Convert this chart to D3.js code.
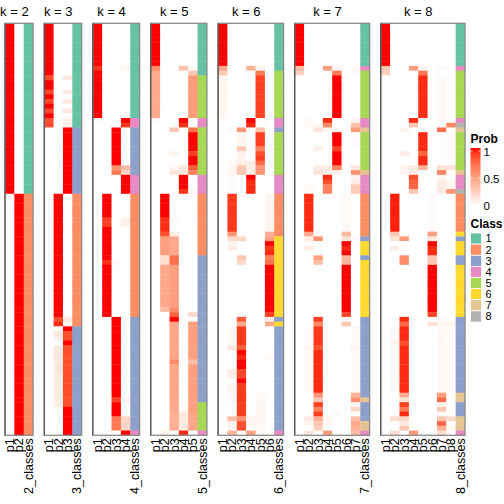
<!DOCTYPE html>
<html><head><meta charset="utf-8">
<script src="https://cdn.jsdelivr.net/npm/d3@7"></script>
<style>body{margin:0;background:#fff}svg{display:block}text{font-family:"Liberation Sans",Arial,Helvetica,sans-serif}</style>
</head><body>
<svg id="chart" width="504" height="504"></svg>
<script>
// ---- data (run-length rows: [repeat, class, [p1..pk]]) ----
const K_VALUES = [2,3,4,5,6,7,8];
const CLASS_LABELS = ["1","2","3","4","5","6","7","8"];
const CLASS_COLORS = ["#66C2A5","#FC8D62","#8DA0CB","#E78AC3","#A6D854","#FFD92F","#E5C494","#B3B3B3"];
const PROB_TICKS = [0, 0.5, 1];

const membership_k2 = [[36,1,[1,0]],[51,2,[0,1]]];
const membership_k3 = [
 [11,1,[1,0,0]],[1,1,[0.87,0,0.12]],[2,1,[1,0,0]],[1,1,[0.88,0,0.12]],[1,1,[1,0,0]],
 [1,1,[0.88,0,0.12]],[1,1,[1,0,0]],[1,1,[0.88,0,0.12]],[1,1,[1,0,0]],[2,1,[0.85,0,0.08]],
 [14,3,[0,0,1]],[26,2,[0,1,0]],[1,2,[0,0.86,0.12]],[1,2,[0,0.94,0.04]],
 [1,3,[0,0,1]],[1,3,[0,0.13,0.84]],[1,3,[0,0.09,0.85]],[1,3,[0,0,1]],
 [1,3,[0,0.11,0.84]],[1,3,[0,0.12,0.85]],[1,3,[0,0.14,0.82]],[1,3,[0,0.1,0.86]],
 [2,3,[0,0.13,0.84]],[3,3,[0,0.1,0.86]],[4,3,[0,0.1,0.85]],[6,3,[0,0,1]]
];
const membership_k4 = [
 [9,1,[1,0,0,0]],[1,1,[0.92,0,0,0.05]],[10,1,[1,0,0,0]],[1,4,[0.04,0,0,1]],[1,4,[0,0,0,0.92]],
 [8,3,[0,0,1,0]],[1,3,[0,0,0.55,0.35]],[1,3,[0,0,0.68,0.22]],[4,4,[0,0,0,1]],
 [5,2,[0,1,0,0]],[2,2,[0,0.9,0,0.08]],[7,2,[0,1,0,0]],[1,2,[0,0.93,0.03,0]],[11,2,[0,1,0,0]],
 [17,3,[0,0,1,0]],[1,3,[0,0,0.88,0.06]],[3,3,[0,0,1,0]],[3,3,[0,0,0.68,0.22]],[1,4,[0,0,0,1]]
];
const membership_k5 = [
 [9,1,[1,0,0,0,0]],[1,1,[0.58,0,0,0.32,0.04]],[1,1,[0.45,0,0,0,0.3]],
 [9,5,[0.45,0,0,0,0.52]],[1,4,[0.03,0,0,1,0]],[1,4,[0,0,0,0.93,0]],
 [1,5,[0,0,0.3,0,0.72]],[4,5,[0,0,0,0,1]],[1,5,[0,0,0.06,0,0.9]],[2,5,[0,0,0,0,1]],
 [1,5,[0,0,0.05,0.12,0.8]],[1,5,[0,0,0.15,0.13,0.65]],[3,4,[0,0,0,1,0]],[1,4,[0,0,0,0.92,0.03]],
 [5,2,[0,1,0,0,0]],[1,2,[0,0.94,0.03,0,0]],[2,2,[0,0.94,0,0,0]],[1,2,[0,0.84,0.1,0,0]],
 [4,2,[0,0.5,0.45,0,0]],[2,3,[0,0.18,0.72,0,0]],[9,3,[0,0.45,0.5,0,0]],[1,3,[0,0.35,0.6,0,0]],
 [1,3,[0,0,0.78,0,0.2]],[1,3,[0,0,1,0,0]],[8,3,[0,0,0.47,0,0.5]],[1,3,[0,0,0.6,0,0.35]],
 [8,3,[0,0,0.47,0,0.5]],[2,5,[0,0,0.45,0.03,0.5]],[4,5,[0,0,0.42,0.12,0.47]],[1,4,[0,0.08,0,0.95,0]]
];
const membership_k6 = [
 [9,1,[1,0,0,0,0,0]],[1,1,[0.45,0,0,0.4,0.05,0]],[1,5,[0.3,0,0,0,0.68,0]],
 [9,5,[0.05,0,0,0,0.9,0]],[1,4,[0,0,0,1,0.02,0]],[1,4,[0,0,0,0.95,0,0]],
 [1,3,[0,0.03,0.55,0,0.33,0]],[3,5,[0,0,0.05,0,0.9,0]],[1,5,[0,0,0.28,0,0.65,0]],
 [1,5,[0,0,0.08,0,0.85,0]],[1,5,[0,0,0.06,0,0.9,0]],[1,5,[0,0.03,0.1,0.1,0.75,0]],
 [2,5,[0,0.05,0.3,0.1,0.55,0]],[1,4,[0,0.02,0,1,0,0]],[3,4,[0,0.02,0,0.95,0,0]],
 [8,2,[0,0.92,0,0,0,0.05]],[1,2,[0,0.55,0,0,0,0.42]],[1,6,[0,0.2,0.22,0,0,0.5]],
 [1,6,[0,0.05,0,0,0,1]],[1,6,[0,0.1,0,0,0,0.92]],[1,6,[0,0,0,0,0,0.95]],
 [1,6,[0,0,0.3,0,0,0.65]],[1,6,[0,0,0.2,0,0,0.72]],[10,6,[0,0,0,0,0,1]],
 [1,6,[0,0,0.03,0,0,0.9]],[1,3,[0,0,0.8,0,0,0.1]],[1,6,[0,0,0.45,0,0,0.46]],
 [4,3,[0,0.04,0.92,0,0,0]],[1,3,[0,0.13,0.8,0,0,0]],[1,3,[0,0,1,0,0,0]],[1,3,[0,0,0.95,0,0,0.04]],
 [2,3,[0,0,1,0,0,0]],[2,3,[0,0.1,0.88,0,0,0]],[1,3,[0,0,1,0,0,0]],[2,3,[0,0.06,0.9,0,0,0]],
 [2,3,[0,0.03,0.92,0,0.04,0]],[3,3,[0,0,0.9,0,0.05,0]],[1,3,[0,0.35,0.55,0.05,0.05,0]],
 [1,3,[0,0.06,0.85,0.06,0.05,0]],[1,3,[0,0.06,0.85,0,0.04,0]],[1,4,[0,0.4,0,0.5,0.04,0]]
];
const membership_k7 = [
 [9,1,[1,0,0,0,0,0,0]],[1,4,[0.35,0,0,0.5,0.05,0,0.03]],[1,5,[0.25,0,0,0,0.68,0,0.03]],
 [9,5,[0,0,0,0,1,0,0]],[1,4,[0,0.03,0,0.95,0,0,0.06]],[1,4,[0,0.04,0.05,0.62,0,0,0.33]],
 [1,7,[0,0,0.15,0.05,0.05,0,0.52]],[3,5,[0,0,0,0,1,0,0.02]],[1,5,[0,0,0.08,0,0.88,0,0]],
 [3,5,[0,0,0,0,1,0,0]],[1,5,[0,0,0.1,0.1,0.65,0,0.13]],[1,7,[0,0,0.15,0.1,0.07,0,0.58]],
 [1,4,[0,0,0,0.95,0,0,0.06]],[1,4,[0,0,0,0.85,0,0,0.1]],[2,4,[0,0.03,0,0.65,0,0,0.28]],
 [8,2,[0,0.95,0,0,0,0.03,0]],[1,2,[0,0.45,0,0,0,0.38,0]],[1,3,[0,0.1,0.57,0,0,0.15,0.03]],
 [1,6,[0,0.03,0,0,0,1,0]],[1,6,[0,0.1,0,0,0,0.95,0]],[1,6,[0,0,0,0,0,1,0]],
 [1,3,[0,0,0.5,0,0,0.38,0]],[1,6,[0,0,0.35,0,0,0.4,0]],[10,6,[0,0,0,0,0,1,0]],
 [1,6,[0,0,0.03,0,0,0.88,0]],[1,3,[0,0,0.9,0,0,0,0]],[1,3,[0,0,0.62,0,0,0.3,0]],
 [4,3,[0,0.02,0.92,0,0,0,0.03]],[1,3,[0,0.05,0.85,0,0,0,0.05]],[9,3,[0,0.03,0.95,0,0,0,0.03]],
 [1,3,[0,0,0.55,0,0,0,0.4]],[1,7,[0,0,0.3,0,0,0,0.58]],[1,3,[0,0,0.9,0,0,0,0.07]],
 [1,3,[0,0,0.65,0,0,0,0.22]],[1,3,[0,0,0.9,0,0.03,0,0]],[1,3,[0,0.12,0.42,0.05,0,0,0.35]],
 [1,7,[0,0.06,0.3,0.04,0,0,0.45]],[1,7,[0,0,0.25,0,0,0,0.42]],[1,4,[0,0.13,0,0.52,0,0,0.35]]
];
const membership_k8 = [
 [9,1,[1,0,0,0,0,0,0,0]],[1,4,[0.3,0,0,0.5,0.06,0,0.03,0]],[1,5,[0.25,0,0,0,0.68,0,0,0]],
 [9,5,[0,0,0,0,0.95,0,0.03,0]],[1,4,[0,0,0,0.95,0,0,0.04,0]],[1,8,[0,0,0,0.3,0,0,0,0.62]],
 [1,7,[0,0,0.07,0,0,0,0.72,0]],[4,5,[0,0,0,0,0.95,0,0,0.02]],[1,5,[0,0,0.1,0,0.78,0,0,0.02]],
 [2,5,[0,0,0,0,0.95,0,0,0.02]],[1,5,[0,0,0.06,0.12,0.4,0,0.15,0.15]],[1,7,[0,0,0.06,0.1,0,0,0.62,0.03]],
 [1,4,[0,0,0,0.85,0,0,0.03,0]],[2,4,[0,0,0,0.78,0,0,0.1,0.05]],[1,8,[0,0,0,0.3,0,0,0.12,0.55]],
 [8,2,[0,0.97,0,0,0,0.02,0,0]],[1,6,[0,0.3,0,0,0,0.5,0,0]],[1,3,[0,0.15,0.52,0,0,0.1,0,0]],
 [1,6,[0,0,0,0,0,1,0,0]],[1,6,[0,0.1,0,0,0,0.95,0,0]],[1,6,[0,0,0,0,0,0.95,0,0]],
 [2,3,[0,0,0.6,0,0,0.3,0,0]],[10,6,[0,0,0,0,0,1,0,0]],[1,6,[0,0,0.04,0,0,0.88,0,0]],
 [1,3,[0,0,0.95,0,0,0,0.03,0]],[1,3,[0,0,0.75,0,0,0.15,0.05,0.05]],
 [3,3,[0,0.03,0.95,0,0,0,0.04,0.02]],[1,3,[0,0.08,0.85,0,0,0,0.05,0.02]],[10,3,[0,0.03,0.95,0,0,0,0.04,0.02]],
 [1,7,[0,0,0.45,0,0,0,0.5,0]],[1,7,[0,0,0.15,0,0,0,0.75,0]],[1,3,[0,0,0.9,0,0,0,0.07,0]],
 [1,3,[0,0,0.68,0,0,0,0.3,0]],[1,3,[0,0,0.95,0,0,0,0.02,0]],[1,7,[0,0.18,0.22,0,0,0,0.3,0.2]],
 [1,7,[0,0,0.12,0.03,0,0,0.75,0]],[1,7,[0,0,0.3,0,0,0,0.4,0.05]],[1,4,[0,0.18,0,0.52,0,0,0.18,0]]
];
const MEMBERSHIP = {2:membership_k2,3:membership_k3,4:membership_k4,5:membership_k5,6:membership_k6,7:membership_k7,8:membership_k8};

// ---- layout ----
const N_ROWS = 87;
const X0 = 5, COLW = 9.36, GAP = 11.15, TOP = 23.3, BODY_H = 412;
const svg = d3.select("#chart");
const FONT = 12.5;

const probColor = d3.scaleLinear().domain([0,1]).range(["#ffffff","#ff0000"]).interpolate(d3.interpolateLab);
const classColor = d3.scaleOrdinal().domain(CLASS_LABELS).range(CLASS_COLORS);
const yRow = d3.scaleBand().domain(d3.range(N_ROWS)).range([TOP, TOP + BODY_H]);

function decode(rle){ const out=[]; rle.forEach(([n,c,p])=>{ for(let i=0;i<n;i++) out.push({cls:String(c), p}); }); return out; }

let xCursor = X0;
K_VALUES.forEach(k => {
  const rows = decode(MEMBERSHIP[k]);
  const cols = d3.range(1,k+1).map(i=>"p"+i).concat([k+"_classes"]);
  const w = cols.length * COLW;
  const xCol = d3.scaleBand().domain(cols).range([xCursor, xCursor + w]);
  const g = svg.append("g");
  rows.forEach((r, ri) => {
    r.p.forEach((v, ci) => {
      g.append("rect").attr("x", xCol(cols[ci])).attr("y", yRow(ri))
        .attr("width", xCol.bandwidth()+0.4).attr("height", yRow.bandwidth()+0.4)
        .attr("fill", probColor(v));
    });
    g.append("rect").attr("x", xCol(cols[k])).attr("y", yRow(ri))
      .attr("width", xCol.bandwidth()).attr("height", yRow.bandwidth()+0.4)
      .attr("fill", classColor(r.cls));
  });
  // border
  g.append("rect").attr("x", xCursor).attr("y", TOP).attr("width", w).attr("height", BODY_H)
    .attr("fill","none").attr("stroke","#8a8a8a").attr("stroke-width",1.3);
  g.append("line").attr("x1", xCursor).attr("x2", xCursor).attr("y1", TOP).attr("y2", TOP+BODY_H)
    .attr("stroke","#444").attr("stroke-width",1);
  // title centered over probability columns
  const pMid = (xCol("p1") + xCol("p"+k) + xCol.bandwidth())/2;
  svg.append("text").attr("x", pMid).attr("y", 16).attr("text-anchor","middle")
    .attr("font-size", 13).text("k = " + k);
  // column labels
  cols.forEach(c => {
    svg.append("text")
      .attr("transform", `translate(${xCol(c)+xCol.bandwidth()/2},${TOP+BODY_H+3}) rotate(-90)`)
      .attr("text-anchor","end").attr("dy","0.35em").attr("font-size", FONT).text(c);
  });
  xCursor += w + GAP;
});

// ---- legends ----
const LX = 470.5;
svg.append("text").attr("x", LX).attr("y", 143).attr("font-size", 12).attr("font-weight","bold").text("Prob");
const barY = d3.scaleLinear().domain([0,1]).range([205, 151]);
const defs = svg.append("defs");
const grad = defs.append("linearGradient").attr("id","pg").attr("x1",0).attr("y1",1).attr("x2",0).attr("y2",0);
d3.range(0,1.0001,0.1).forEach(t => grad.append("stop").attr("offset", t).attr("stop-color", probColor(t)));
svg.append("rect").attr("x", LX).attr("y", 148).attr("width", 10).attr("height", 58).attr("fill","url(#pg)");
PROB_TICKS.forEach(t => {
  svg.append("line").attr("x1", LX).attr("x2", LX+2).attr("y1", barY(t)).attr("y2", barY(t)).attr("stroke","#fff").attr("stroke-width",0.8);
  svg.append("line").attr("x1", LX+8).attr("x2", LX+10).attr("y1", barY(t)).attr("y2", barY(t)).attr("stroke","#fff").attr("stroke-width",0.8);
  svg.append("text").attr("x", LX+13).attr("y", barY(t)+1).attr("dy","0.35em").attr("font-size", 11.5).text(String(t));
});
svg.append("text").attr("x", LX).attr("y", 228).attr("font-size", 12).attr("font-weight","bold").text("Class");
const keyY = d3.scaleBand().domain(CLASS_LABELS).range([233, 322]);
CLASS_LABELS.forEach(c => {
  svg.append("rect").attr("x", LX).attr("y", keyY(c)).attr("width", 11).attr("height", keyY.bandwidth())
    .attr("fill", classColor(c)).attr("stroke","#fff").attr("stroke-width",0.8);
  svg.append("text").attr("x", LX+15).attr("y", keyY(c)+keyY.bandwidth()/2).attr("dy","0.35em")
    .attr("font-size", 11).text(c);
});
</script>
</body></html>
